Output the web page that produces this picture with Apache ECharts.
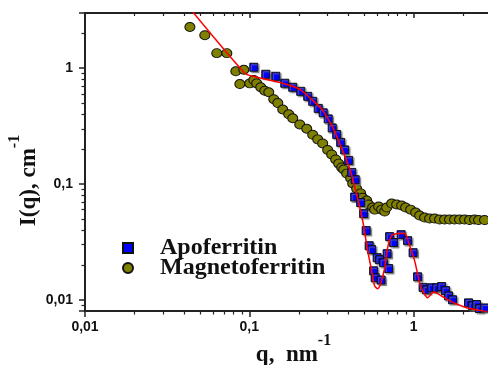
<!DOCTYPE html>
<html>
<head>
<meta charset="utf-8">
<script src="https://cdn.jsdelivr.net/npm/echarts@6/dist/echarts.min.js"></script>
<style>
html, body { margin: 0; padding: 0; background: #fff; }
#chart { width: 488px; height: 365px; }
</style>
</head>
<body>
<div id="chart"></div>
<script>
// --- data ---
const apoQ = [0.1065, 0.126, 0.145, 0.1644, 0.1838, 0.2056, 0.2268, 0.2432, 0.2627, 0.2817,
  0.3021, 0.3195, 0.3403, 0.3599, 0.3806, 0.4026, 0.4199, 0.441, 0.4379, 0.4762,
  0.4966, 0.5144, 0.5364, 0.5555, 0.5712, 0.5834, 0.5998, 0.6212, 0.6344, 0.6571,
  0.6901, 0.7047, 0.7147, 0.7556, 0.8395, 0.9194, 0.993, 1.0575, 1.1424, 1.1995,
  1.2867, 1.38, 1.48, 1.565, 1.632, 1.726, 2.159, 2.284, 2.415, 2.519, 2.702];
const apoI = [1.02, 0.887, 0.852, 0.742, 0.685, 0.632, 0.572, 0.518, 0.45, 0.412,
  0.365, 0.305, 0.268, 0.229, 0.197, 0.16, 0.126, 0.109, 0.0772, 0.0692,
  0.0555, 0.0396, 0.0293, 0.0271, 0.0178, 0.0155, 0.0231, 0.0222, 0.0148, 0.0209,
  0.025, 0.0186, 0.0351, 0.0312, 0.0365, 0.0324, 0.0255, 0.0158, 0.0128, 0.0122,
  0.0127, 0.0127, 0.013, 0.012, 0.0108, 0.01, 0.0094, 0.0089, 0.0091, 0.0084, 0.0085];

const magQ = [0.0435, 0.0536, 0.0634, 0.073, 0.0828, 0.0876, 0.0926, 0.1007, 0.1065, 0.111,
  0.1174, 0.1242, 0.1314, 0.1409, 0.1491, 0.1598, 0.1738, 0.1838, 0.2028, 0.2236,
  0.2432, 0.2608, 0.2797, 0.3, 0.3172, 0.3356, 0.35, 0.365, 0.3754, 0.3915,
  0.414, 0.4258, 0.4503, 0.4762, 0.4898, 0.518, 0.5326, 0.5634, 0.5793, 0.6126,
  0.639, 0.6664, 0.6854, 0.7354, 0.7885, 0.8454, 0.8941, 0.959, 1.0285, 1.0877,
  1.1665, 1.251, 1.342, 1.439, 1.543, 1.655, 1.775, 1.904, 2.042, 2.19,
  2.349, 2.484, 2.702];
const magI = [2.27, 1.93, 1.35, 1.35, 0.94, 0.73, 0.97, 0.74, 0.79, 0.74,
  0.685, 0.64, 0.62, 0.54, 0.5, 0.44, 0.4, 0.37, 0.327, 0.3,
  0.266, 0.243, 0.224, 0.197, 0.18, 0.163, 0.15, 0.139, 0.1335, 0.123,
  0.112, 0.101, 0.091, 0.083, 0.076, 0.072, 0.0665, 0.0626, 0.0601, 0.0639,
  0.0601, 0.0578, 0.0626, 0.0678, 0.0665, 0.0652, 0.0626, 0.0601, 0.0567, 0.0534,
  0.0513, 0.0503, 0.0503, 0.0493, 0.0493, 0.0493, 0.0493, 0.0493, 0.0493, 0.0488,
  0.0493, 0.0488, 0.0488];

// fit curve (red)
const fitQ = [0.043, 0.0939, 0.1051, 0.1598, 0.2028, 0.2432, 0.2797, 0.3219, 0.365, 0.4081,
  0.4437, 0.4898, 0.5253, 0.5555, 0.5793, 0.6043, 0.6303, 0.6664, 0.6949, 0.7354,
  0.7993, 0.8817, 0.9456, 1.0141, 1.0877, 1.134, 1.2167, 1.3232, 1.543, 1.826,
  2.19, 3.0];
const fitI = [3.35, 0.905, 0.852, 0.742, 0.658, 0.528, 0.433, 0.308, 0.203, 0.136,
  0.088, 0.0483, 0.0266, 0.0178, 0.0132, 0.01245, 0.0138, 0.0189, 0.0282, 0.0358,
  0.0373, 0.0373, 0.0293, 0.0218, 0.014, 0.012, 0.0104, 0.0117, 0.0104, 0.0092,
  0.0084, 0.0078];

const xTickValues = [0.01, 0.1, 1];
const xTickLabels = ['0,01', '0,1', '1'];
const yTickValues = [0.01, 0.1, 1];
const yTickLabels = ['0,01', '0,1', '1'];

// --- chart ---
const chart = echarts.init(document.getElementById('chart'));

function tickLabel(values, labels) {
    return function (v) {
        const i = values.findIndex(t => Math.abs(t - v) / t < 1e-6);
        return i >= 0 ? labels[i] : '';
    };
}

const axisColor = '#222';
const labelFont = { fontFamily: 'Liberation Sans', fontWeight: 'bold', fontSize: 14, color: '#111' };
const nameFont = {
    fontFamily: 'Liberation Serif', fontWeight: 'bold', fontSize: 23, color: '#111',
    rich: {
        m: { fontFamily: 'Liberation Serif', fontWeight: 'bold', fontSize: 23, color: '#111', lineHeight: 44 },
        s: { fontFamily: 'Liberation Serif', fontWeight: 'bold', fontSize: 16, color: '#111', lineHeight: 16, verticalAlign: 'top' }
    }
};

function logAxis(extra) {
    return Object.assign({
        type: 'log',
        logBase: 10,
        nameMoveOverlap: false,
        axisLine: { show: true, onZero: false, lineStyle: { color: axisColor, width: 2 } },
        axisTick: { show: true, length: 6, lineStyle: { color: axisColor, width: 1.5 } },
        minorTick: { show: true, splitNumber: 9, length: 3.5, lineStyle: { color: axisColor, width: 1.2 } },
        splitLine: { show: false },
        minorSplitLine: { show: false }
    }, extra);
}

const option = {
    animation: false,
    backgroundColor: '#fff',
    grid: { left: 85, right: -4, top: 13, bottom: 54, containLabel: false, outerBoundsMode: 'none' },
    xAxis: [
        logAxis({
            min: 0.01, max: 3, position: 'bottom',
            axisLabel: Object.assign({ margin: 9, formatter: tickLabel(xTickValues, xTickLabels) }, labelFont),
            name: '{m|q,  nm}{s|-1}', nameLocation: 'middle', nameGap: 22,
            nameTextStyle: Object.assign({ padding: [0, 0, 0, 10] }, nameFont)
        }),
        logAxis({
            min: 0.01, max: 3, position: 'top',
            axisTick: { show: true, inside: true, length: 5, lineStyle: { color: axisColor, width: 1.5 } },
            minorTick: { show: true, splitNumber: 9, length: 3, lineStyle: { color: axisColor, width: 1.2 } },
            axisLabel: { show: false }
        })
    ],
    yAxis: logAxis({
        min: 0.008, max: 3,
        axisLabel: Object.assign({ margin: 12, formatter: tickLabel(yTickValues, yTickLabels) }, labelFont),
        name: '{m|I(q), cm}{s|-1}', nameLocation: 'middle', nameGap: 34,
        nameTextStyle: Object.assign({ padding: [0, 37, 0, 0] }, nameFont)
    }),
    legend: {
        data: ['Apoferritin', 'Magnetoferritin'],
        orient: 'vertical', left: 117, top: 231,
        itemWidth: 10, itemHeight: 10, itemGap: -4,
        textStyle: {
            fontFamily: 'Liberation Serif', fontWeight: 'bold', fontSize: 24, color: '#111',
            lineHeight: 20, padding: [0, 0, 0, 22]
        }
    },
    series: [
        {
            name: 'Magnetoferritin', type: 'scatter', xAxisIndex: 0,
            symbol: 'circle', symbolSize: [10, 9],
            itemStyle: { color: '#7f7f00', borderColor: '#111', borderWidth: 1, opacity: 1 },
            data: magQ.map((q, i) => [q, magI[i]])
        },
        {
            name: 'fit', type: 'line', xAxisIndex: 0,
            showSymbol: false, smooth: 0.25,
            lineStyle: { color: '#ff0000', width: 1.5 },
            data: fitQ.map((q, i) => [q, fitI[i]])
        },
        {
            name: 'Apoferritin', type: 'scatter', xAxisIndex: 0,
            symbol: 'rect', symbolSize: 8,
            itemStyle: {
                color: '#0000ff', borderColor: '#111', borderWidth: 1, opacity: 1,
                shadowColor: 'rgba(120,120,120,0.8)', shadowBlur: 1, shadowOffsetX: 1.5, shadowOffsetY: 1.5
            },
            data: apoQ.map((q, i) => [q, apoI[i]])
        }
    ]
};

chart.setOption(option);
</script>
</body>
</html>
